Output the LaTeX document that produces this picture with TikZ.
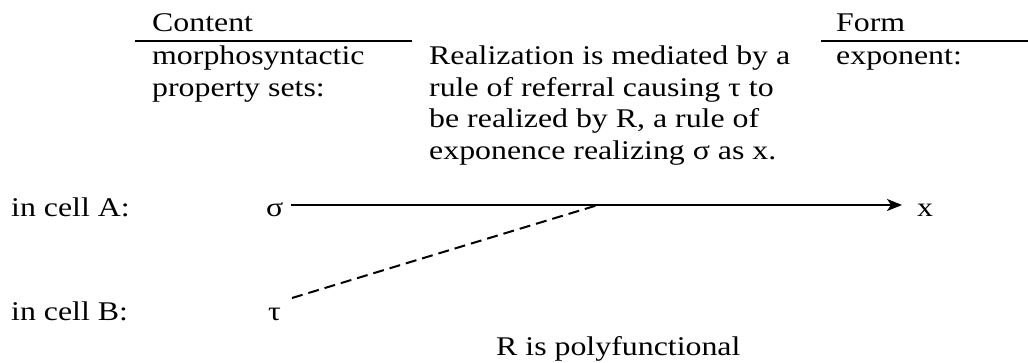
\documentclass[tikz,border=0pt]{standalone}
\usepackage{fontspec}
\setmainfont{Liberation Serif}[FakeStretch=1.18]
\usetikzlibrary{arrows.meta}
\tikzset{
  txt/.style={anchor=base west, inner sep=0pt, font=\fontsize{27}{31.5}\selectfont},
  rulel/.style={line width=2pt},
  conn/.style={line width=2pt}
}
\begin{document}
\begin{tikzpicture}[x=1pt,y=-1pt]
\useasboundingbox (0,0) rectangle (1028,363);
\node[txt] (content) at (152,32) {Content};
\node[txt] (form) at (836,32) {Form};
\draw[rulel] (135,41) coordinate (c1) -- (412,41) coordinate (c2);
\draw[rulel] (821,41) coordinate (f1) -- (1028,41) coordinate (f2);
\node[txt] (mps1) at (152,65) {morphosyntactic};
\node[txt] (mps2) at (152,96.5) {property sets:};
\node[txt] (expl1) at (429,65) {Realization is mediated by a};
\node[txt] (expl2) at (429,96.5) {rule of referral causing τ to};
\node[txt] (expl3) at (429,128) {be realized by R, a rule of};
\node[txt] (expl4) at (429,159.5) {exponence realizing σ as x.};
\node[txt] (expo) at (836,65) {exponent:};
\node[txt] (cellA) at (11,217) {in cell A:};
\node[txt] (cellB) at (11,320) {in cell B:};
\node[txt] (sigma) at (266,217) {σ};
\node[txt] (tau) at (268,320) {τ};
\node[txt] (x) at (917,217) {x};
\node[txt] (rpoly) at (496,355) {R is polyfunctional};
\coordinate (a1) at (291,205);
\coordinate (a2) at (902,205);
\coordinate (m) at (598,205);
\coordinate (t1) at (292,298);
\draw[conn,-{Stealth[length=15pt,width=12pt,inset=4pt]}] (a1) -- (a2);
\draw[conn,dash pattern=on 11pt off 6pt] (t1) -- (m);
\end{tikzpicture}
\end{document}
